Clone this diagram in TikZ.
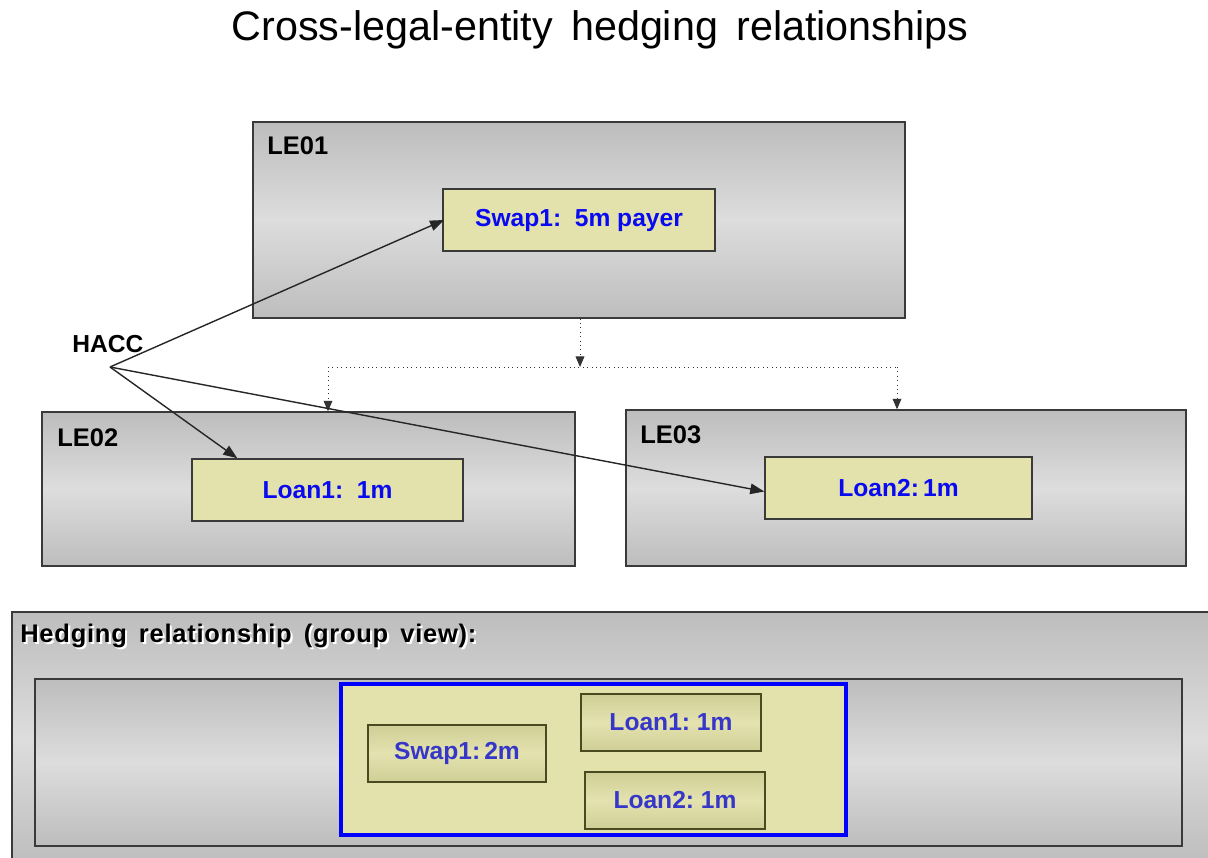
\documentclass[tikz,border=0pt]{standalone}
\usepackage{fontspec}
\setmainfont{Liberation Sans}
\usetikzlibrary{arrows.meta}
\definecolor{boxgrey}{HTML}{BDBDBD}
\definecolor{boxlight}{HTML}{DDDDDD}
\definecolor{beige}{HTML}{E3E2AD}
\definecolor{beigedark}{HTML}{CFCE96}
\definecolor{beigelight}{HTML}{E4E3B0}
\definecolor{olivedark}{HTML}{4A4A20}
\definecolor{txtblue}{HTML}{0A0AF0}
\definecolor{txtbluemuted}{HTML}{3636C8}
\definecolor{framegrey}{HTML}{3A3A3A}
\begin{document}
\begin{tikzpicture}[x=0.02cm,y=-0.02cm,
  lebox/.style={draw=framegrey, line width=0.8pt, top color=boxgrey, bottom color=boxgrey, middle color=boxlight, rectangle, inner sep=0pt},
  itembox/.style={draw=framegrey, line width=0.8pt, fill=beige, rectangle, inner sep=0pt, minimum height=1.24cm,
     font=\fontsize{14}{16}\selectfont\bfseries, text=txtblue},
  groupitem/.style={draw=olivedark, line width=0.8pt, top color=beigedark, bottom color=beigedark, middle color=beigelight, rectangle, inner sep=0pt,
     minimum width=3.6cm, minimum height=1.14cm, font=\fontsize{14}{16}\selectfont\bfseries, text=txtbluemuted},
  lelabel/.style={anchor=base west, inner sep=0pt, font=\fontsize{14.5}{16}\selectfont\bfseries},
  hacc/.style={-{Triangle[length=8pt,width=6pt]}, line width=0.8pt, black!85},
  dotarrow/.style={-{Triangle[length=6pt,width=5pt]}, dotted, line width=0.5pt, black!80}
]
\useasboundingbox (0,0) rectangle (1208,858);
\clip (0,0) rectangle (1208,858);

% title
\node[anchor=base, inner sep=0pt, font=\fontsize{23.5}{26}\selectfont] (title) at (600,41) {Cross-legal-entity\, hedging\, relationships};

% legal entity boxes
\node[lebox, minimum width=13.04cm, minimum height=3.92cm] (le01) at (579,220) {};
\node[lebox, minimum width=10.66cm, minimum height=3.08cm] (le02) at (308.5,489) {};
\node[lebox, minimum width=11.2cm, minimum height=3.12cm] (le03) at (906,488) {};

\node[lelabel] (le01l) at (267,155) {LE01};
\node[lelabel] (le02l) at (57,446) {LE02};
\node[lelabel] (le03l) at (640,443) {LE03};

\node[itembox, minimum width=5.44cm] (swap1) at (579,220) {Swap1:\ \ 5m payer};
\node[itembox, minimum width=5.42cm] (loan1) at (327.5,490) {Loan1:\ \ 1m};
\node[itembox, minimum width=5.34cm] (loan2) at (898.5,488) {Loan2:\,1m};

% dotted distribution connectors
\coordinate (split) at (580,367);
\coordinate (leftturn) at (328,367);
\coordinate (rightturn) at (897,367);
\draw[dotarrow] (le01.south -| split) -- (split);
\draw[dotted, line width=0.5pt, black!80] (leftturn) -- (rightturn);
\draw[dotarrow] (leftturn) -- (leftturn |- le02.north);
\draw[dotarrow] (rightturn) -- (rightturn |- le03.north);

% HACC
\node[anchor=base west, inner sep=0pt, font=\fontsize{14}{16}\selectfont\bfseries] (hacclabel) at (72,353) {HACC};
\coordinate (hacc) at (110,367);
\coordinate (l1t) at ([xshift=0.92cm]loan1.north west);
\draw[hacc] (hacc) -- ([xshift=1pt]swap1.west);
\draw[hacc] (hacc) -- (l1t);
\draw[hacc] (hacc) -- ([yshift=-2pt]loan2.west);

% group view
\node[lebox, minimum width=24.06cm, minimum height=5.06cm] (group) at (613.5,738.5) {};
\node[anchor=base west, inner sep=0pt, font=\fontsize{14.5}{16}\selectfont\bfseries\addfontfeatures{LetterSpace=3}] (grouplabel) at (20,642)
  {\makebox[0pt][l]{\raisebox{-1.2pt}{\hspace{1.2pt}\color{white}Hedging\ \,relationship\ \,(group\ \,view):}}Hedging\ \,relationship\ \,(group\ \,view):};
\node[lebox, minimum width=22.94cm, minimum height=3.34cm] (inner) at (608.5,762.5) {};
\node[draw=blue, line width=2pt, fill=beige, rectangle, inner sep=0pt, minimum width=10.1cm, minimum height=3.02cm] (hedge) at (593.5,759.5) {};
\node[groupitem, minimum width=3.56cm] (gswap) at (457,753.5) {Swap1:\,2m};
\node[groupitem] (gloan1) at (671,722.5) {Loan1:\ 1m};
\node[groupitem] (gloan2) at (675,800.5) {Loan2:\ 1m};
\end{tikzpicture}
\end{document}
